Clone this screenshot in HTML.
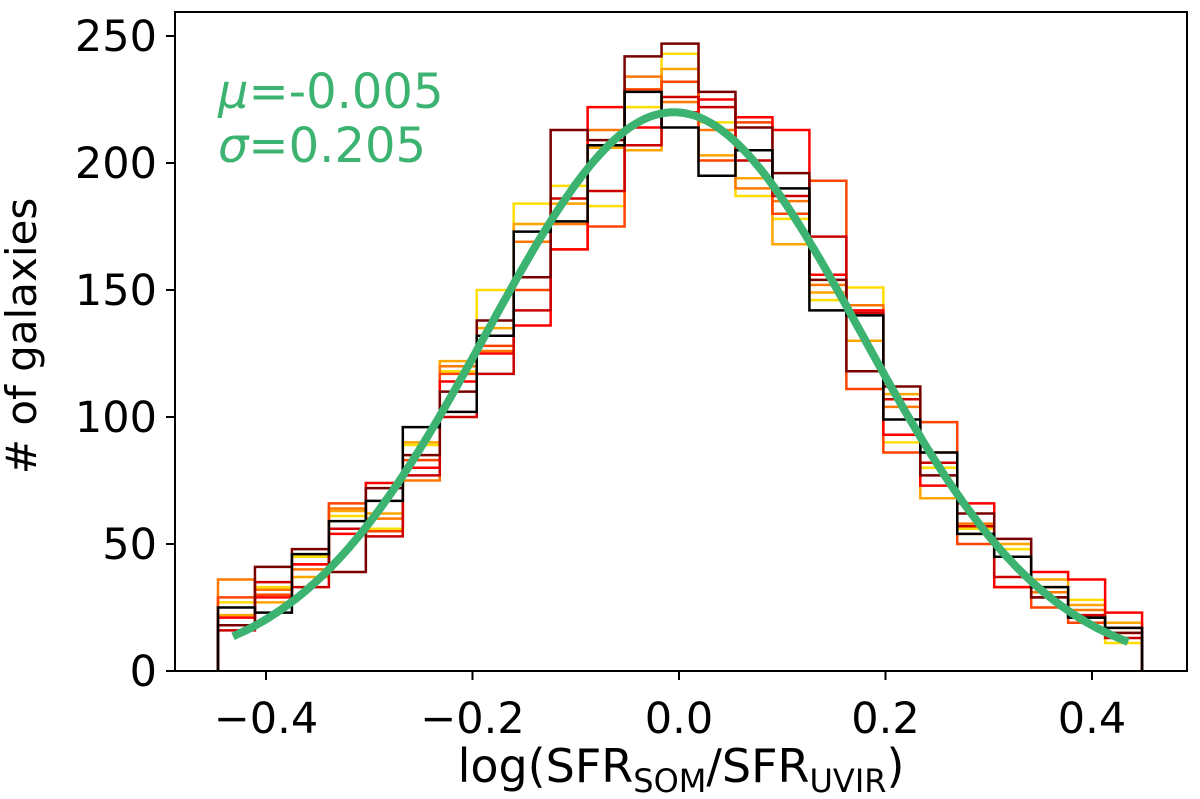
<!DOCTYPE html>
<html><head><meta charset="utf-8"><style>
html,body{margin:0;padding:0;background:#fff;}
svg{display:block;font-family:"DejaVu Sans","Liberation Sans",sans-serif;}
</style></head><body>
<svg id="chart" width="1200" height="799" viewBox="0 0 1200 799">
<g id="hists"></g>
<g id="fit"></g>
<rect x="175" y="12" width="1012" height="659" fill="none" stroke="#000" stroke-width="2"/>
<g id="xticks"></g>
<g id="yticks"></g>
<text x="681" y="782" font-size="46" text-anchor="middle">log(SFR<tspan font-size="32" dy="10">SOM</tspan><tspan dy="-10">/SFR</tspan><tspan font-size="32" dy="10">UVIR</tspan><tspan dy="-10">)</tspan></text>
<text transform="translate(36,336) rotate(-90)" font-size="42" text-anchor="middle"># of galaxies</text>
<text x="218" y="108" font-size="48" fill="#3cb371"><tspan font-style="italic">μ</tspan>=-0.005</text>
<text x="218" y="162" font-size="48" fill="#3cb371"><tspan font-style="italic">σ</tspan>=0.205</text>
</svg>
<script>
const binStart = -0.4465;
const binWidth = 0.0358;
const seriesColors = ["#ffdd00","#ffa500","#ff7700","#ff4400","#ff0000","#cc0000","#7a0000","#000000"];
const sYellow = [27,33,45,61,56,89,118,150,184,191,183,222,243,216,187,178,146,151,90,80,56,48,33,28,11];
const sOrange = [22,27,37,63,62,90,122,135,176,184,206,205,237,203,194,168,149,130,109,68,54,50,36,26,19];
const sDarkOrange = [36,32,40,64,60,75,120,126,169,176,213,234,224,213,190,185,152,144,104,86,58,45,31,24,15];
const sOrangeRed = [29,30,42,66,55,83,117,128,150,166,175,229,232,201,216,180,193,111,86,98,50,33,25,19,17];
const sRed = [21,29,42,54,74,80,114,125,136,166,222,214,220,225,218,213,156,142,93,73,66,33,39,36,23];
const sDarkRed = [16,35,33,56,53,77,100,117,142,186,189,207,226,222,201,187,171,141,107,82,57,37,29,22,13];
const sMaroon = [18,41,48,39,72,85,110,138,155,213,209,242,247,228,214,196,154,118,112,77,62,52,29,21,15];
const sBlack = [25,23,46,59,67,96,102,132,173,177,207,228,214,195,205,190,142,140,99,86,54,45,33,21,17];
const allSeries = [sYellow,sOrange,sDarkOrange,sOrangeRed,sRed,sDarkRed,sMaroon,sBlack];
const fitAmp = 220, fitMu = -0.005, fitSigma = 0.181;
const fitRange = [-0.432, 0.435];
const xTicks = [-0.4,-0.2,0.0,0.2,0.4];
const xTickLabels = ["\u22120.4","\u22120.2","0.0","0.2","0.4"];
const yTicks = [0,50,100,150,200,250];

const NS = "http://www.w3.org/2000/svg";
const X = v => 679 + v*1032.5;
const Y = v => 671 - v*2.54;
function mk(tag, attrs, parent){
  const e = document.createElementNS(NS, tag);
  for (const k in attrs) e.setAttribute(k, attrs[k]);
  parent.appendChild(e); return e;
}
const hg = document.getElementById("hists");
allSeries.forEach((s, si) => {
  let d = "M" + X(binStart) + "," + Y(0);
  s.forEach((v, i) => {
    const x0 = X(binStart + i*binWidth), x1 = X(binStart + (i+1)*binWidth);
    d += " L" + x0 + "," + Y(v) + " L" + x1 + "," + Y(v);
  });
  d += " L" + X(binStart + s.length*binWidth) + "," + Y(0);
  const p = mk("path", {d: d, fill: "none", stroke: seriesColors[si], "stroke-width": 2.5}, hg);
  
  
});
const fg = document.getElementById("fit");
let fd = "";
for (let i = 0; i <= 200; i++) {
  const x = fitRange[0] + (fitRange[1]-fitRange[0])*i/200;
  const y = fitAmp*Math.exp(-Math.pow(x-fitMu,2)/(2*fitSigma*fitSigma));
  fd += (i ? " L" : "M") + X(x).toFixed(1) + "," + Y(y).toFixed(1);
}
const fp = mk("path", {d: fd, fill: "none", stroke: "#3cb371", "stroke-width": 8, "stroke-linecap": "butt"}, fg);


const xg = document.getElementById("xticks");
xTicks.forEach((t, i) => {
  const l = mk("line", {x1: X(t), x2: X(t), y1: 671, y2: 680, stroke: "#000", "stroke-width": 2}, xg);
  
  
  const tx = mk("text", {x: X(t), y: 733, "font-size": 43, "text-anchor": "middle"}, xg);
  tx.textContent = xTickLabels[i];
  
  
});
const yg = document.getElementById("yticks");
yTicks.forEach(t => {
  const l = mk("line", {x1: 166, x2: 175, y1: Y(t), y2: Y(t), stroke: "#000", "stroke-width": 2}, yg);
  
  
  const tx = mk("text", {x: 157, y: Y(t) + 15, "font-size": 43, "text-anchor": "end"}, yg);
  tx.textContent = String(t);
  
  
});
</script>
</body></html>
